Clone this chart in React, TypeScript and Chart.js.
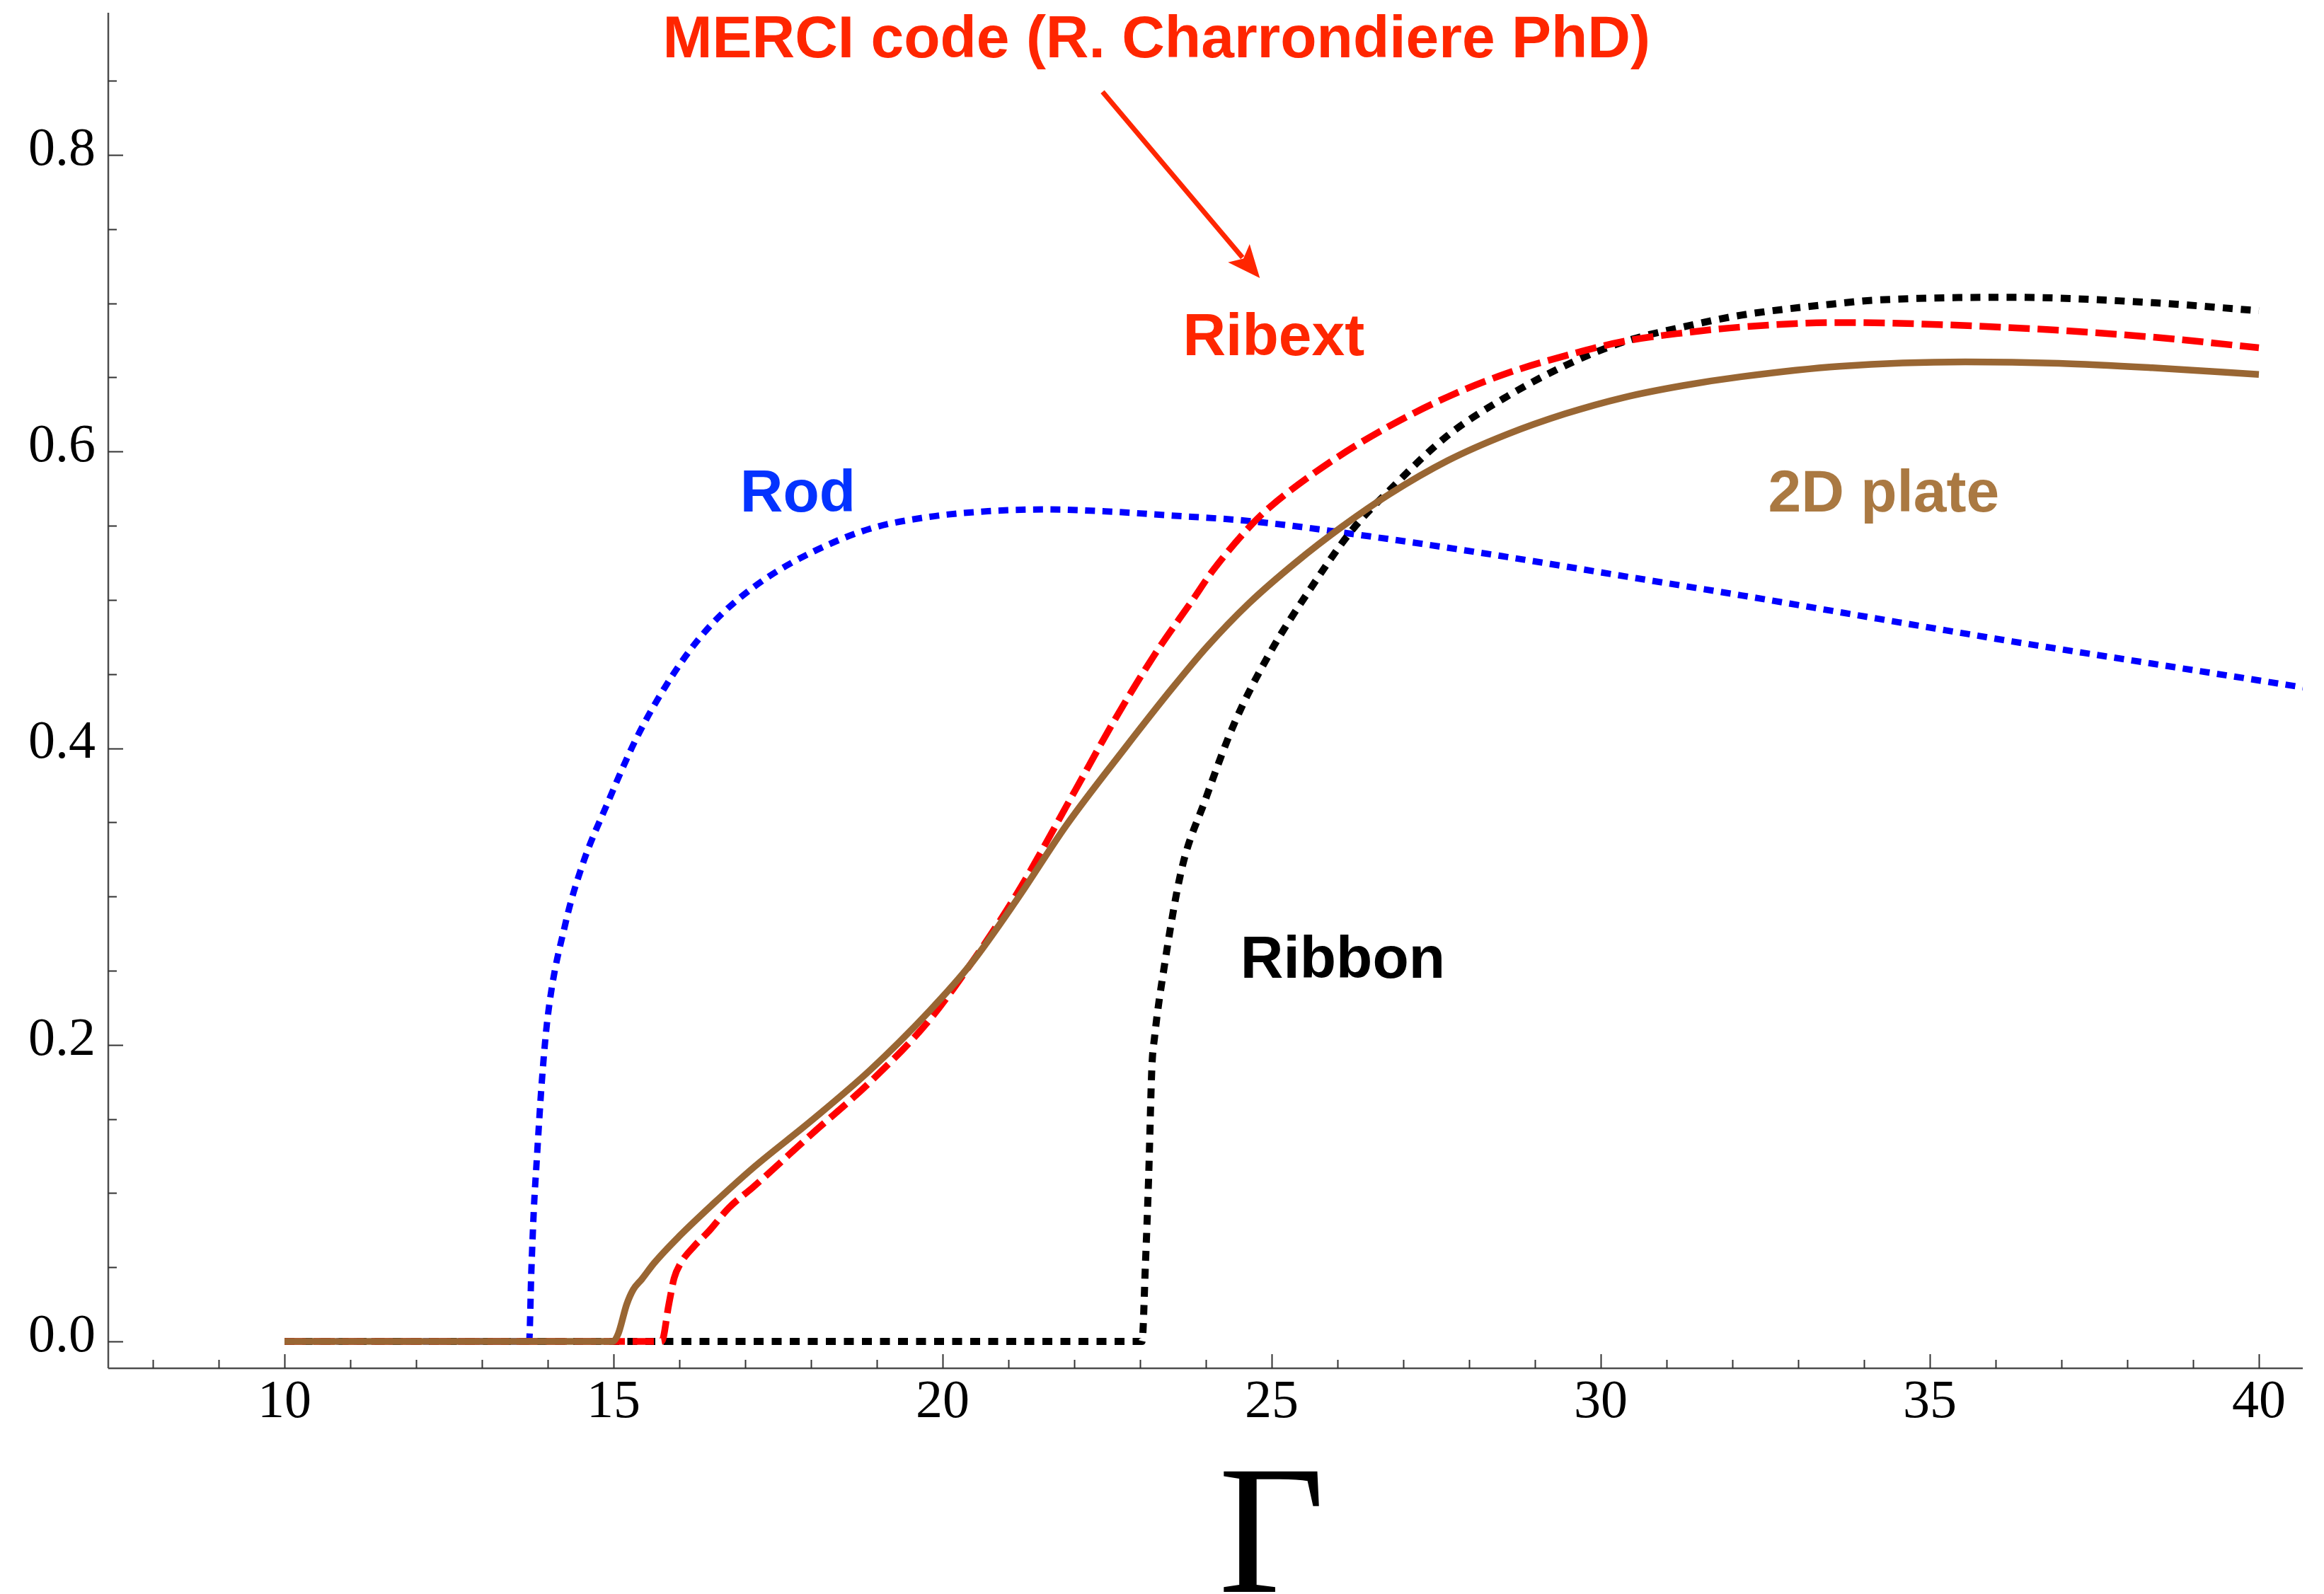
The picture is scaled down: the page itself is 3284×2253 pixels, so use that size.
import React, { useEffect, useRef } from 'react';
import { Chart, registerables } from 'chart.js';

Chart.register(...registerables);

// ---- Data ----
const rodX = [10, 13.717, 13.75, 13.79, 13.83, 13.91, 14.0, 14.27, 14.54, 14.89, 15.34, 15.78, 16.23, 16.68, 17.3, 18.01, 18.9, 19.8, 20.69, 21.58, 22.47, 23.37, 24.7, 26.78, 28.57, 30.35, 32.14, 34.12, 36.25, 38.38, 40.67];
const rodY = [0, 0, 0.046, 0.09, 0.12, 0.175, 0.219, 0.282, 0.323, 0.361, 0.406, 0.441, 0.47, 0.492, 0.514, 0.532, 0.548, 0.556, 0.5598, 0.561, 0.5597, 0.5572, 0.553, 0.541, 0.529, 0.516, 0.503, 0.488, 0.472, 0.457, 0.441];

const plateX = [10, 14.99, 15.07, 15.2, 15.3, 15.43, 15.62, 16.0, 16.52, 17.12, 18.01, 18.9, 19.8, 20.42, 21.13, 21.88, 22.77, 23.49, 24.02, 24.65, 25.36, 26.08, 26.78, 27.68, 28.57, 29.46, 30.35, 31.25, 32.14, 33.63, 35.54, 36.96, 38.38, 40];
const plateY = [0, 0, 0.005, 0.025, 0.035, 0.042, 0.053, 0.071, 0.093, 0.117, 0.149, 0.183, 0.2228, 0.254, 0.298, 0.348, 0.4, 0.4405, 0.4685, 0.4975, 0.525, 0.5497, 0.571, 0.594, 0.6115, 0.6255, 0.6365, 0.6445, 0.6505, 0.6575, 0.6605, 0.6595, 0.6565, 0.652];

const ribextX = [10, 15.73, 15.84, 15.92, 16.01, 16.22, 16.45, 16.75, 17.12, 18.01, 18.9, 19.8, 20.42, 21.13, 22.02, 22.6, 23.22, 23.8, 24.11, 24.7, 25.0, 25.89, 26.78, 27.68, 28.57, 29.46, 30.35, 31.25, 32.14, 33.63, 36.25, 38.38, 40];
const ribextY = [0, 0, 0.025, 0.0426, 0.052, 0.064, 0.0744, 0.09, 0.104, 0.1398, 0.175, 0.2167, 0.254, 0.302, 0.372, 0.418, 0.463, 0.5, 0.52, 0.551, 0.5636, 0.593, 0.617, 0.637, 0.6527, 0.6646, 0.6743, 0.68, 0.684, 0.687, 0.6835, 0.6772, 0.67];

const ribbonX = [10, 23.03, 23.08, 23.13, 23.18, 23.22, 23.36, 23.63, 23.99, 24.43, 24.97, 25.59, 26.22, 26.78, 27.68, 28.57, 29.46, 30.35, 31.25, 32.14, 33.63, 34.12, 36.25, 38.38, 40];
const ribbonY = [0, 0, 0.05, 0.11, 0.185, 0.205, 0.2505, 0.318, 0.365, 0.4165, 0.464, 0.5076, 0.547, 0.5735, 0.611, 0.637, 0.658, 0.674, 0.684, 0.692, 0.7, 0.702, 0.704, 0.7004, 0.695];

// ---- Axes ----
const xTicks = [8, 9, 10, 11, 12, 13, 14, 15, 16, 17, 18, 19, 20, 21, 22, 23, 24, 25, 26, 27, 28, 29, 30, 31, 32, 33, 34, 35, 36, 37, 38, 39, 40];
const xLabeled = [10, 15, 20, 25, 30, 35, 40];
const yTicks = [0, 0.05, 0.1, 0.15, 0.2, 0.25, 0.3, 0.35, 0.4, 0.45, 0.5, 0.55, 0.6, 0.65, 0.7, 0.75, 0.8, 0.85];
const yLabeled = ['0.0', '0.2', '0.4', '0.6', '0.8'];
const xRange = [7.3226, 40.667];
const yRange = [-0.01813, 0.8959];
const xTitle = 'Γ';
const xTitleAt = 25;

// ---- Annotations ----
const labelTexts = ['MERCI code (R. Charrondiere PhD)', 'Ribext', 'Rod', '2D plate', 'Ribbon'];
const labelX = [23.25, 25.03, 17.8, 34.3, 26.08];
const labelY = [0.866, 0.665, 0.5596, 0.5596, 0.2452];
const labelColors = ['#FF2600', '#FF2600', '#0433FF', '#AA7942', '#000000'];
const arrowFrom = [22.43, 0.8426];
const arrowTo = [24.82, 0.717];

const pts = (xs: number[], ys: number[]) => xs.map((x, i) => ({ x, y: ys[i] }));
const isLabeledX = (v: number) => xLabeled.some((t) => Math.abs(t - v) < 1e-9);
const yLabelOf = (v: number) => yLabeled.find((s) => Math.abs(parseFloat(s) - v) < 1e-9);

const overlay = {
  id: 'overlay',
  afterDraw(chart: any) {
    const { ctx, chartArea, scales } = chart;
    const xs = scales.x;
    const ys = scales.y;
    ctx.save();
    // axis lines
    ctx.strokeStyle = '#4d4d4d';
    ctx.lineWidth = 2.5;
    ctx.beginPath();
    ctx.moveTo(chartArea.left, chartArea.bottom);
    ctx.lineTo(chartArea.right, chartArea.bottom);
    ctx.moveTo(chartArea.left, chartArea.top);
    ctx.lineTo(chartArea.left, chartArea.bottom);
    ctx.stroke();
    // inward ticks
    ctx.strokeStyle = '#333';
    ctx.lineWidth = 2;
    ctx.beginPath();
    xs.ticks.forEach((t: any) => {
      const px = Math.round(xs.getPixelForValue(t.value)) + 0.5;
      const len = isLabeledX(t.value) ? 20 : 12;
      ctx.moveTo(px, chartArea.bottom);
      ctx.lineTo(px, chartArea.bottom - len);
    });
    ys.ticks.forEach((t: any) => {
      const py = Math.round(ys.getPixelForValue(t.value)) + 0.5;
      const len = yLabelOf(t.value) ? 21 : 12;
      ctx.moveTo(chartArea.left, py);
      ctx.lineTo(chartArea.left + len, py);
    });
    ctx.stroke();

    // text labels
    ctx.font = 'bold 84px "Liberation Sans", Arial, Helvetica, sans-serif';
    ctx.textAlign = 'center';
    ctx.textBaseline = 'alphabetic';
    labelTexts.forEach((t, i) => {
      ctx.fillStyle = labelColors[i];
      ctx.fillText(t, xs.getPixelForValue(labelX[i]), ys.getPixelForValue(labelY[i]));
    });

    // arrow
    const x1 = xs.getPixelForValue(arrowFrom[0]);
    const y1 = ys.getPixelForValue(arrowFrom[1]);
    const x2 = xs.getPixelForValue(arrowTo[0]);
    const y2 = ys.getPixelForValue(arrowTo[1]);
    const ang = Math.atan2(y2 - y1, x2 - x1);
    const headLen = 46;
    const headHalf = 20;
    const bx = x2 - headLen * Math.cos(ang);
    const by = y2 - headLen * Math.sin(ang);
    ctx.strokeStyle = '#FF2600';
    ctx.fillStyle = '#FF2600';
    ctx.lineWidth = 7;
    ctx.beginPath();
    ctx.moveTo(x1, y1);
    ctx.lineTo(bx + 8 * Math.cos(ang), by + 8 * Math.sin(ang));
    ctx.stroke();
    ctx.beginPath();
    ctx.moveTo(x2, y2);
    ctx.lineTo(bx - headHalf * Math.sin(ang), by + headHalf * Math.cos(ang));
    ctx.lineTo(bx + 10 * Math.cos(ang), by + 10 * Math.sin(ang));
    ctx.lineTo(bx + headHalf * Math.sin(ang), by - headHalf * Math.cos(ang));
    ctx.closePath();
    ctx.fill();

    // axis title
    ctx.fillStyle = '#000';
    ctx.font = '260px "Liberation Serif", "Times New Roman", serif';
    ctx.textAlign = 'center';
    ctx.fillText(xTitle, xs.getPixelForValue(xTitleAt), chart.height - 3);
    ctx.restore();
  },
};

export default function App() {
  const ref = useRef<HTMLCanvasElement | null>(null);
  useEffect(() => {
    if (!ref.current) return;
    const chart = new Chart(ref.current, {
      type: 'line',
      data: {
        datasets: [
          { label: '2D plate', data: pts(plateX, plateY), borderColor: '#996633', borderWidth: 9.5, pointRadius: 0, cubicInterpolationMode: 'monotone' },
          { label: 'Ribext', data: pts(ribextX, ribextY), borderColor: '#FF0000', borderWidth: 9.5, borderDash: [30, 11], pointRadius: 0, cubicInterpolationMode: 'monotone' },
          { label: 'Ribbon', data: pts(ribbonX, ribbonY), borderColor: '#000000', borderWidth: 10, borderDash: [14, 11.5], pointRadius: 0, cubicInterpolationMode: 'monotone' },
          { label: 'Rod', data: pts(rodX, rodY), borderColor: '#0000FF', borderWidth: 9, borderDash: [14, 10.5], pointRadius: 0, cubicInterpolationMode: 'monotone' },
        ],
      },
      options: {
        animation: false,
        responsive: true,
        maintainAspectRatio: false,
        devicePixelRatio: 1,
        events: [],
        layout: { padding: { top: 18, right: 30, left: 0, bottom: 0 } },
        plugins: { legend: { display: false }, tooltip: { enabled: false } },
        scales: {
          x: {
            type: 'linear',
            bounds: 'data',
            min: xRange[0],
            max: xRange[1],
            grid: { display: false, drawTicks: false, drawOnChartArea: false },
            border: { display: false },
            afterBuildTicks: (s: any) => { s.ticks = xTicks.map((value) => ({ value })); },
            afterFit: (s: any) => { s.height = 319; s.paddingLeft = 0; s.paddingRight = 0; },
            ticks: {
              autoSkip: false,
              maxRotation: 0,
              padding: 3,
              color: '#000',
              font: { family: '"Liberation Serif", "Times New Roman", serif', size: 76 },
              callback: (v: any) => (isLabeledX(Number(v)) ? String(v) : ''),
            },
          },
          y: {
            type: 'linear',
            bounds: 'data',
            min: yRange[0],
            max: yRange[1],
            grid: { display: false, drawTicks: false, drawOnChartArea: false },
            border: { display: false },
            afterBuildTicks: (s: any) => { s.ticks = yTicks.map((value) => ({ value })); },
            afterFit: (s: any) => { s.width = 153; s.paddingTop = 0; s.paddingBottom = 0; },
            ticks: {
              autoSkip: false,
              padding: 18,
              labelOffset: -6,
              color: '#000',
              font: { family: '"Liberation Serif", "Times New Roman", serif', size: 76 },
              callback: (v: any) => yLabelOf(Number(v)) || '',
            },
          },
        },
      },
      plugins: [overlay],
    } as any);
    return () => chart.destroy();
  }, []);
  return (
    <div style={{ position: 'fixed', left: 0, top: 0, width: '3284px', height: '2253px', background: '#fff' }}>
      <canvas ref={ref} />
    </div>
  );
}
